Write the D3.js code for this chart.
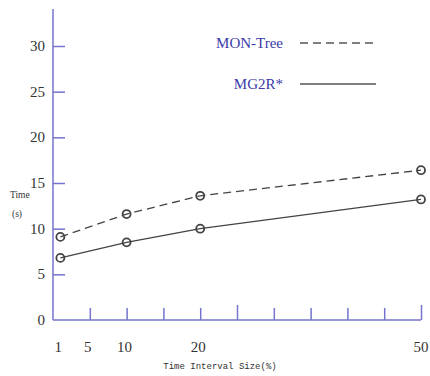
<!DOCTYPE html>
<html>
<head>
<meta charset="utf-8">
<script src="https://cdn.jsdelivr.net/npm/d3@7"></script>
<style>
  body { margin: 0; background: #fff; }
  svg { display: block; }
</style>
</head>
<body>
<div id="chart"></div>
<script>
// interval sizes (%)
const sizes = [1, 10, 20, 50];
// time (s) for each method
const mon_tree = [9.1, 11.6, 13.6, 16.4];
const mg2r = [6.8, 8.5, 10.0, 13.2];

const x_tick_labels = [1, 5, 10, 20, 50];
const x_tick_marks = [5, 10, 15, 20, 25, 30, 35, 40, 45, 50];
const y_ticks = [0, 5, 10, 15, 20, 25, 30];

const series = [
  { name: 'MON-Tree', values: mon_tree, dash: '8,5' },
  { name: 'MG2R*', values: mg2r, dash: null }
];

const width = 430, height = 376;
const axis_color = '#7474cc';
const line_color = '#444';

const svg = d3.select('#chart').append('svg')
  .attr('width', width)
  .attr('height', height);

const xScale = d3.scaleLinear().domain([0, 50]).range([53, 421]);
const yScale = d3.scaleLinear().domain([0, 30]).range([320, 46]);

// y軸
const yAxis = d3.axisRight(yScale).tickValues(y_ticks).tickSize(12).tickFormat('');
const gy = svg.append('g')
  .attr('transform', 'translate(' + xScale(0) + ',0)')
  .call(yAxis);
gy.select('.domain').remove();
gy.selectAll('.tick line').attr('stroke', axis_color).attr('stroke-width', 1.5);
gy.selectAll('.tick').filter(d => d === 0).remove();

svg.append('line')
  .attr('x1', xScale(0)).attr('x2', xScale(0))
  .attr('y1', 9).attr('y2', yScale(0))
  .attr('stroke', axis_color).attr('stroke-width', 1.5);

svg.append('g').selectAll('text')
  .data(y_ticks)
  .join('text')
  .attr('x', 45)
  .attr('y', d => yScale(d) + 5)
  .attr('text-anchor', 'end')
  .attr('font-family', 'Liberation Serif')
  .attr('font-size', 15)
  .attr('fill', '#333')
  .text(d => d);

// x軸
const xAxis = d3.axisTop(xScale).tickValues(x_tick_marks).tickSize(12).tickFormat('');
const gx = svg.append('g')
  .attr('transform', 'translate(0,' + yScale(0) + ')')
  .call(xAxis);
gx.select('.domain').remove();
gx.selectAll('.tick line')
  .attr('stroke', axis_color).attr('stroke-width', 1.5)
  .attr('y2', d => (d === 25 || d === 50) ? -15 : -12);

svg.append('line')
  .attr('x1', xScale(0)).attr('x2', xScale(50))
  .attr('y1', yScale(0)).attr('y2', yScale(0))
  .attr('stroke', axis_color).attr('stroke-width', 1.5);

svg.append('g').selectAll('text')
  .data(x_tick_labels)
  .join('text')
  .attr('x', d => xScale(d) - (d === 50 ? 0 : 2))
  .attr('y', 352)
  .attr('text-anchor', 'middle')
  .attr('font-family', 'Liberation Serif')
  .attr('font-size', 15)
  .attr('fill', '#333')
  .text(d => d);

// 軸タイトル
svg.append('text')
  .attr('x', 220).attr('y', 369)
  .attr('text-anchor', 'middle')
  .attr('font-family', 'Liberation Mono')
  .attr('font-size', 9)
  .attr('fill', '#333')
  .text('Time Interval Size(%)');

svg.append('text')
  .attr('x', 10).attr('y', 198)
  .attr('font-family', 'Liberation Serif')
  .attr('font-size', 9.5)
  .attr('fill', '#333')
  .text('Time');

svg.append('text')
  .attr('x', 12).attr('y', 217)
  .attr('font-family', 'Liberation Serif')
  .attr('font-size', 9.5)
  .attr('fill', '#333')
  .text('(s)');

// 線と点
const line = d3.line()
  .x((d, i) => xScale(sizes[i]))
  .y(d => yScale(d));

for (let s of series) {
  svg.append('path')
    .datum(s.values)
    .attr('fill', 'none')
    .attr('stroke', line_color)
    .attr('stroke-width', 1.3)
    .attr('stroke-dasharray', s.dash)
    .attr('d', line);

  svg.append('g').selectAll('circle')
    .data(s.values)
    .join('circle')
    .attr('cx', (d, i) => xScale(sizes[i]))
    .attr('cy', d => yScale(d))
    .attr('r', 4)
    .attr('fill', 'none')
    .attr('stroke', line_color)
    .attr('stroke-width', 1.8);
}

// 凡例
const legend_y = [43, 84];
series.forEach((s, i) => {
  svg.append('text')
    .attr('x', 283).attr('y', legend_y[i] + 5)
    .attr('text-anchor', 'end')
    .attr('font-family', 'Liberation Serif')
    .attr('font-size', 15)
    .attr('fill', '#3a3aa8')
    .text(s.name);
  svg.append('line')
    .attr('x1', 300).attr('x2', 376)
    .attr('y1', legend_y[i]).attr('y2', legend_y[i])
    .attr('stroke', '#555')
    .attr('stroke-width', 1.5)
    .attr('stroke-dasharray', s.dash);
});
</script>
</body>
</html>
